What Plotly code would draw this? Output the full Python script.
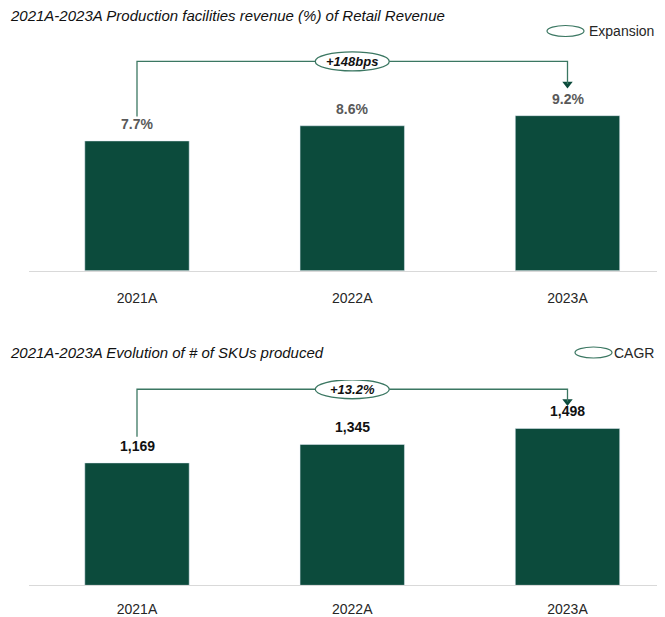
import plotly.graph_objects as go

# ---------------- data ----------------
years = ["2021A", "2022A", "2023A"]
share_pct = [7.7, 8.6, 9.2]          # Production facilities revenue % of retail revenue
share_labels = ["7.7%", "8.6%", "9.2%"]
expansion_label = "+148bps"
skus = [1169, 1345, 1498]            # # of SKUs produced
sku_labels = ["1,169", "1,345", "1,498"]
cagr_label = "+13.2%"
title_top = "2021A-2023A Production facilities revenue (%) of Retail Revenue"
title_bottom = "2021A-2023A Evolution of # of SKUs produced"
legend_top = "Expansion"
legend_bottom = "CAGR"

# ---------------- style ----------------
OFF = 8                      # default page body margin
W, H = 665 - 2 * OFF, 617 - OFF
BAR = "#0C4B3C"
LINE = "#3B7762"
FONT = "Liberation Sans"
xs = [0, 1, 2]

def py(p):  # screen pixel-from-top -> paper y
    return 1 - (p - OFF) / H

def px(p):
    return (p - OFF) / W

fig = go.Figure()

fig.add_trace(go.Bar(x=xs, y=share_pct, marker_color=BAR, width=0.485,
                     xaxis="x", yaxis="y", hoverinfo="skip"))
fig.add_trace(go.Bar(x=xs, y=skus, marker_color=BAR, width=0.485,
                     xaxis="x2", yaxis="y2", hoverinfo="skip"))

# x range: category 0 at screen x 137, category 2 at 567.5, axis from 29 to right edge
unit = (567.5 - 137) / 2
right_edge = OFF + W
x_lo = (29 - 137) / unit
x_hi = (right_edge - 137) / unit
axis_x = dict(range=[x_lo, x_hi], domain=[px(29), 1], tickmode="array",
              tickvals=xs, ticktext=years,
              showline=True, linecolor="#D9D9D9", linewidth=1, showgrid=False, zeroline=False,
              ticks="", tickfont=dict(family=FONT, size=14, color="#262626"), fixedrange=True)

top_max = 13.69
bot_max = 1961
fig.update_layout(
    width=W, height=H, margin=dict(l=0, r=0, t=0, b=0),
    paper_bgcolor="white", plot_bgcolor="white", showlegend=False,
    xaxis=dict(axis_x, anchor="y", ticklabelstandoff=14),
    yaxis=dict(domain=[py(270.7), py(40)], range=[0, top_max], visible=False, fixedrange=True),
    xaxis2=dict(axis_x, anchor="y2", ticklabelstandoff=11),
    yaxis2=dict(domain=[py(585.3), py(380)], range=[0, bot_max], visible=False, fixedrange=True),
)

def add_panel(xref, yref, vals, labels, lab_color, change_label, level, left_gap, tip_gap):
    top = max(vals)
    for x, v, t in zip(xs, vals, labels):
        fig.add_annotation(x=x, y=v, xref=xref, yref=yref, text=f"<b>{t}</b>", showarrow=False,
                           yanchor="bottom", yshift=7,
                           font=dict(family=FONT, size=14, color=lab_color))
    y_level = level * top
    y_left = vals[0] + left_gap * top
    y_tip = vals[-1] + tip_gap * top
    fig.add_shape(type="path", xref=xref, yref=yref,
                  path=f"M {xs[0]},{y_left} L {xs[0]},{y_level} L {xs[-1]},{y_level} L {xs[-1]},{y_tip}",
                  line=dict(color=LINE, width=1.3))
    fig.add_trace(go.Scatter(x=[xs[-1]], y=[y_tip], mode="markers",
                             marker=dict(symbol="triangle-down", size=9, color=BAR),
                             xaxis=xref, yaxis=yref, hoverinfo="skip"))
    fig.add_shape(type="circle", xref=xref, yref=yref, xsizemode="pixel", ysizemode="pixel",
                  xanchor=xs[1], yanchor=y_level, x0=-37, x1=37, y0=-9.5, y1=9.5,
                  fillcolor="white", line=dict(color=LINE, width=1.3), layer="above")
    fig.add_annotation(x=xs[1], y=y_level, xref=xref, yref=yref, showarrow=False,
                       text=f"<b><i>{change_label}</i></b>",
                       font=dict(family=FONT, size=13, color="#111111"))

add_panel("x", "y", share_pct, share_labels, "#595959", expansion_label, 1.35, 0.157, 0.205)
add_panel("x2", "y2", skus, sku_labels, "#111111", cagr_label, 1.25, 0.167, 0.172)

# titles
for text, ty in [(title_top, 16), (title_bottom, 352.5)]:
    fig.add_annotation(x=px(8), y=py(ty), xref="paper", yref="paper", xanchor="left",
                       yanchor="middle", text=f"<i>{text}</i>", showarrow=False,
                       font=dict(family=FONT, size=15, color="#111111"))

# legend-like keys (right aligned to the page edge)
text_w = {legend_top: 70, legend_bottom: 42}
for (label, ty) in [(legend_top, 31), (legend_bottom, 352.5)]:
    fig.add_annotation(x=1, y=py(ty), xref="paper", yref="paper", xanchor="right",
                       yanchor="middle", text=label, showarrow=False, xshift=-1,
                       font=dict(family=FONT, size=14, color="#262626"))
    e1 = right_edge - 1 - text_w[label] - 2
    fig.add_shape(type="circle", xref="paper", yref="paper",
                  x0=px(e1 - 37), x1=px(e1), y0=py(ty + 5.5), y1=py(ty - 5.5),
                  fillcolor="white", line=dict(color=LINE, width=1.2))

fig.write_html("out.html")
